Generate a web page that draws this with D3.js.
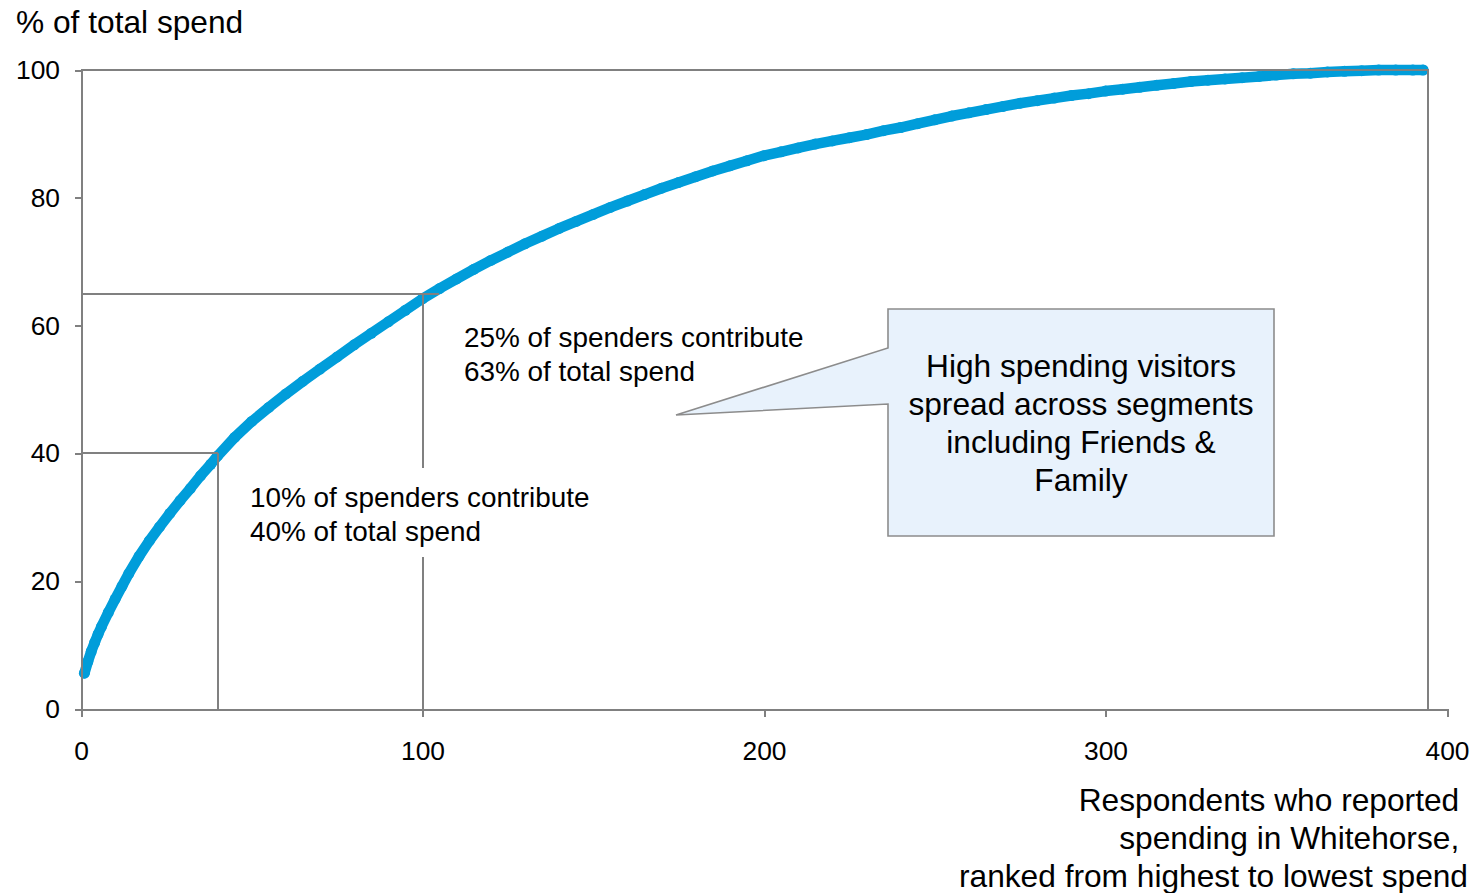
<!DOCTYPE html>
<html>
<head>
<meta charset="utf-8">
<script src="https://cdn.jsdelivr.net/npm/d3@7"></script>
<style>
  body { margin: 0; background: #fff; }
  svg { display: block; }
  text { font-family: "Liberation Sans", Arial, sans-serif; fill: #000; }
</style>
</head>
<body>
<svg id="chart" width="1476" height="893"></svg>
<script>
// Respondents ranked from highest to lowest spend, and the running share of total spend
const ranks = [1, 2, 3, 4, 5, 6, 8, 10, 12, 14, 17, 20, 23, 26, 29, 32, 35, 38, 40,
  45, 50, 55, 60, 65, 70, 75, 80, 85, 90, 95, 100, 105, 110, 115, 120, 125, 130, 135, 140,
  145, 150, 155, 160, 165, 170, 175, 180, 185, 190, 195, 200, 205, 210, 215, 220, 225, 230,
  235, 240, 245, 250, 255, 260, 265, 270, 275, 280, 285, 290, 295, 300, 305, 310, 315, 320,
  325, 330, 335, 340, 345, 350, 355, 360, 365, 370, 375, 380, 385, 390, 393];
const cumulativeShare = [5.6, 7.4, 9.0, 10.4, 11.7, 12.9, 15.1, 17.2, 19.2, 21.2, 23.9, 26.3, 28.5, 30.6, 32.6, 34.5, 36.5, 38.3, 39.6,
  42.5, 45.0, 47.2, 49.3, 51.3, 53.2, 55.1, 57.0, 58.8, 60.6, 62.4, 64.2, 65.8, 67.3, 68.8, 70.2, 71.5, 72.8, 74.0, 75.2,
  76.3, 77.4, 78.5, 79.5, 80.5, 81.5, 82.4, 83.3, 84.2, 85.0, 85.8, 86.6, 87.2, 87.8, 88.4, 88.9, 89.4, 89.9,
  90.5, 91.0, 91.6, 92.2, 92.8, 93.3, 93.8, 94.3, 94.8, 95.2, 95.6, 96.0, 96.3, 96.7, 97.0, 97.3, 97.6, 97.9,
  98.2, 98.4, 98.6, 98.8, 99.0, 99.2, 99.4, 99.5, 99.7, 99.8, 99.9, 100, 100, 100, 100];

const xTicks = [0, 100, 200, 300, 400];
const yTicks = [0, 20, 40, 60, 80, 100];

// Reference lines: rank where the guide drops to the axis, share where it meets the y axis
const guideRanks = [40, 100];
const guideShares = [40, 65];
const guideEnds = [40, 104.7];
const frameRank = 394.5;

const yTitle = "% of total spend";
const xTitleLines = ["Respondents who reported ", "spending in Whitehorse, ", "ranked from highest to lowest spend"];
const noteLow = ["10% of spenders contribute", "40% of total spend"];
const noteMid = ["25% of spenders contribute", "63% of total spend"];
const calloutLines = ["High spending visitors", "spread across segments", "including Friends &", "Family"];

const points = ranks.map((r, i) => ({ rank: r, share: cumulativeShare[i] }));

const svg = d3.select("#chart");
const x = d3.scaleLinear().domain([0, 400]).range([81, 1447]);
const y = d3.scaleLinear().domain([0, 100]).range([709, 70]);

const grey = "#808080";
const blue = "#009dda";

// Cumulative spend curve
svg.append("path")
  .datum(points)
  .attr("fill", "none")
  .attr("stroke", blue)
  .attr("stroke-width", 10.5)
  .attr("stroke-linecap", "round")
  .attr("stroke-linejoin", "round")
  .attr("d", d3.line().x(d => x(d.rank)).y(d => y(d.share)));

svg.append("g").selectAll("circle")
  .data(points)
  .join("circle")
  .attr("cx", d => x(d.rank))
  .attr("cy", d => y(d.share))
  .attr("r", 5.5)
  .attr("fill", blue);

// Guide lines
const guides = svg.append("g")
  .attr("stroke", grey)
  .attr("stroke-width", 2)
  .attr("fill", "none")
  .attr("shape-rendering", "crispEdges");
guideRanks.forEach((r, i) => {
  guides.append("line")
    .attr("x1", x(0)).attr("x2", x(guideEnds[i]))
    .attr("y1", y(guideShares[i])).attr("y2", y(guideShares[i]));
  guides.append("line")
    .attr("x1", x(r)).attr("x2", x(r))
    .attr("y1", y(guideShares[i])).attr("y2", y(0));
});

// Plot frame (top and right)
svg.append("path")
  .attr("fill", "none")
  .attr("stroke", grey)
  .attr("stroke-width", 2)
  .attr("shape-rendering", "crispEdges")
  .attr("d", `M${x(0)},${y(100)}H${x(frameRank)}V${y(0)}`);

// Axes
const yAxis = svg.append("g")
  .attr("transform", `translate(${x(0)},0)`)
  .call(d3.axisLeft(y).tickValues(yTicks).tickSize(6).tickSizeOuter(0).tickPadding(15));
const xAxis = svg.append("g")
  .attr("transform", `translate(0,${y(0)})`)
  .call(d3.axisBottom(x).tickValues(xTicks).tickSize(8).tickSizeOuter(0).tickPadding(24));
[yAxis, xAxis].forEach(a => {
  a.select(".domain").attr("stroke", grey).attr("stroke-width", 2).attr("shape-rendering", "crispEdges");
  a.selectAll(".tick line").attr("stroke", grey).attr("stroke-width", 2).attr("shape-rendering", "crispEdges");
  a.selectAll(".tick text")
    .attr("fill", "#000")
    .style("font-family", '"Liberation Sans", Arial, sans-serif')
    .style("font-size", "26.4px");
});

// Axis titles
svg.append("text")
  .attr("x", 16).attr("y", 33)
  .style("font-size", "31.7px")
  .text(yTitle);

svg.append("g").selectAll("text")
  .data(xTitleLines)
  .join("text")
  .attr("x", 1468)
  .attr("y", (d, i) => 811 + i * 38)
  .attr("text-anchor", "end")
  .style("white-space", "pre")
  .style("font-size", "31.7px")
  .text(d => d);

// Annotations
svg.append("rect")
  .attr("x", 240).attr("y", 468).attr("width", 360).attr("height", 89)
  .attr("fill", "#fff");

function note(lines, left, baseline) {
  svg.append("g").selectAll("text")
    .data(lines)
    .join("text")
    .attr("x", left)
    .attr("y", (d, i) => baseline + i * 34)
    .style("font-size", "27.9px")
    .text(d => d);
}
note(noteLow, 250, 507);
note(noteMid, 464, 347);

// Callout box with pointer
svg.append("path")
  .attr("fill", "#e8f2fc")
  .attr("stroke", "#8c8c8c")
  .attr("stroke-width", 1.6)
  .attr("d", "M888,309H1274V536H888V404L676,415L888,348Z");

svg.append("g").selectAll("text")
  .data(calloutLines)
  .join("text")
  .attr("x", 1081)
  .attr("y", (d, i) => 377 + i * 38)
  .attr("text-anchor", "middle")
  .style("font-size", "31.7px")
  .text(d => d);
</script>
</body>
</html>
